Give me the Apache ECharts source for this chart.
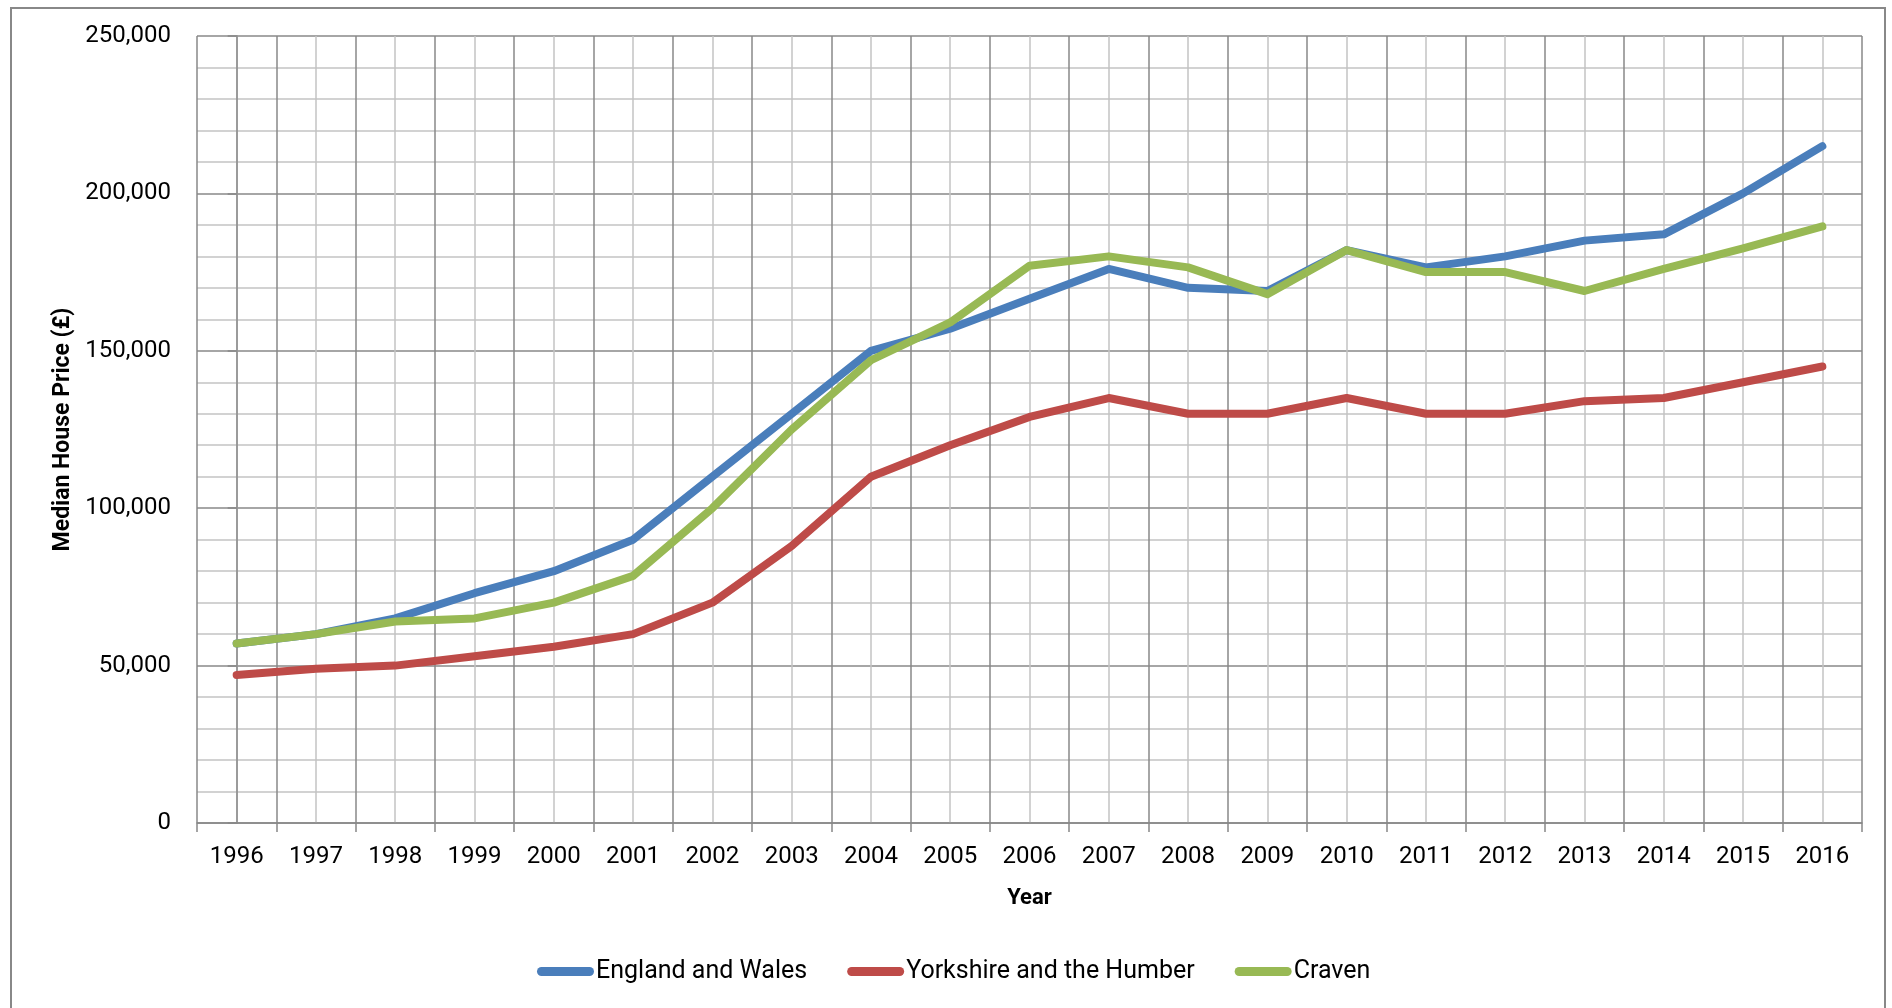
<!DOCTYPE html>
<html>
<head>
<meta charset="utf-8">
<script src="https://cdn.jsdelivr.net/npm/echarts@6/dist/echarts.min.js"></script>
<style>
html,body{margin:0;padding:0;background:#fff;}
#chart{width:1892px;height:1008px;}
</style>
</head>
<body>
<div id="chart"></div>
<script>
const years = ['1996','1997','1998','1999','2000','2001','2002','2003','2004','2005','2006','2007','2008','2009','2010','2011','2012','2013','2014','2015','2016'];
const englandWales = [57000,60000,65000,73000,80000,90000,110000,130000,150000,157000,166500,176000,170000,169000,182000,176500,180000,185000,187000,200000,215000];
const yorkshire = [47000,49000,50000,53000,56000,60000,70000,88000,110000,120000,129000,135000,130000,130000,135000,130000,130000,134000,135000,140000,145000];
const craven = [57000,60000,64000,65000,70000,78500,100000,125000,147000,159000,177000,180000,176500,168000,182000,175000,175000,169000,176000,182500,189500];
const seriesNames = ['England and Wales','Yorkshire and the Humber','Craven'];
const yTicks = {min:0, max:250000, interval:50000};

const FONT = 'Roboto';
const MAJOR = '#888888';
const MINOR = '#c4c4c4';
const capsule = 'path://M4.5,0 H52.5 A4.5,4.5 0 0 1 52.5,9 H4.5 A4.5,4.5 0 0 1 4.5,0 Z';

const chart = echarts.init(document.getElementById('chart'));
const colors = ['#4a7ebb','#be4b48','#98b954'];
const data = [englandWales, yorkshire, craven];

chart.setOption({
  animation:false,
  color:colors,
  textStyle:{fontFamily:FONT},
  graphic:[{
    type:'rect', z:-10, silent:true,
    shape:{x:11,y:8,width:1874,height:1030},
    style:{fill:'none',stroke:'#888888',lineWidth:2}
  }],
  grid:{left:197,top:36,right:30,bottom:185,containLabel:false},
  legend:{
    data:seriesNames,
    bottom:19,
    left:532,
    icon:capsule,
    itemWidth:57,
    itemHeight:9,
    itemGap:40,
    textStyle:{fontFamily:FONT,fontSize:25,color:'#000',padding:[0,0,0,-3]}
  },
  xAxis:[{
    type:'category',
    data:years,
    boundaryGap:true,
    name:'Year',
    nameLocation:'middle',
    nameGap:64,
    nameTextStyle:{fontFamily:FONT,fontSize:22,fontWeight:'bold',color:'#000'},
    axisLine:{lineStyle:{color:MAJOR,width:1.5}},
    axisTick:{show:true,length:9,lineStyle:{color:MAJOR,width:1.5}},
    axisLabel:{fontFamily:FONT,fontSize:24,color:'#000',margin:22},
    splitLine:{show:true,lineStyle:{color:MAJOR,width:1.5}}
  },{
    type:'value',
    min:-0.5,max:20.5,interval:1,
    show:true,
    axisLine:{show:false},axisTick:{show:false},axisLabel:{show:false},
    splitLine:{show:false},
    minorTick:{show:false,splitNumber:2},
    minorSplitLine:{show:true,lineStyle:{color:MINOR,width:1.5}}
  }],
  yAxis:{
    type:'value',
    min:yTicks.min,max:yTicks.max,interval:yTicks.interval,
    name:'Median House Price (£)',
    nameLocation:'middle',
    nameGap:122,
    nameTextStyle:{fontFamily:FONT,fontSize:23,fontWeight:'bold',color:'#000'},
    axisLine:{show:true,lineStyle:{color:MAJOR,width:1.5}},
    axisTick:{show:true,length:9,lineStyle:{color:MAJOR,width:1.5}},
    axisLabel:{fontFamily:FONT,fontSize:24,color:'#000',margin:26,
      formatter:v=>v.toLocaleString('en-GB')},
    splitLine:{show:true,lineStyle:{color:MAJOR,width:1.5}},
    minorTick:{show:false,splitNumber:5},
    minorSplitLine:{show:true,lineStyle:{color:MINOR,width:1.5}}
  },
  series:seriesNames.map((n,i)=>({
    name:n,
    type:'line',
    xAxisIndex:0,
    data:data[i],
    symbol:'none',
    smooth:false,
    z:3+i,
    lineStyle:{width:8,cap:'round',join:'round',color:colors[i]},
    itemStyle:{color:colors[i]}
  }))
});
</script>
</body>
</html>
